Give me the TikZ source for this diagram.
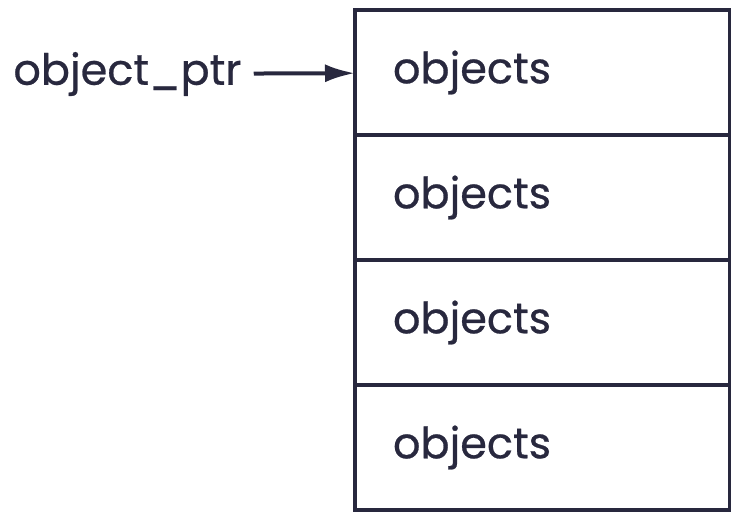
\documentclass[tikz,border=0pt]{standalone}
\usepackage{fontspec}
\newfontfamily\inkfont{Poppins}[FakeBold=0.6]
\usetikzlibrary{positioning,arrows.meta}
\definecolor{ink}{RGB}{40,40,62}

\begin{document}
\begin{tikzpicture}[x=0.5pt,y=-0.5pt,
    cell/.style={draw=ink, line width=1.8pt, minimum width=187.5pt, minimum height=62.5pt,
      text width=149.5pt, inner xsep=19pt, inner ysep=0pt, outer sep=0pt, align=left,
      text=ink, font=\inkfont\fontsize{21.5}{26}\selectfont},
    ptrlabel/.style={text=ink, inner sep=6pt, font=\inkfont\fontsize{21.5}{26}\selectfont}]
  \useasboundingbox (0,0) rectangle (731,512);

  % Draw the array of cells
  \node[cell] (row1) at (542.5,72.5) {objects};
  \node[cell, below=0pt of row1] (row2) {objects};
  \node[cell, below=0pt of row2] (row3) {objects};
  \node[cell, below=0pt of row3] (row4) {objects};

  % Draw the pointer
  \node[ptrlabel, anchor=west] (ptr) at (1,74) {object\_ptr};
  \draw[ink, line width=2pt, -{Latex[length=15pt,width=9pt]}] (ptr) -- (row1);
\end{tikzpicture}
\end{document}
